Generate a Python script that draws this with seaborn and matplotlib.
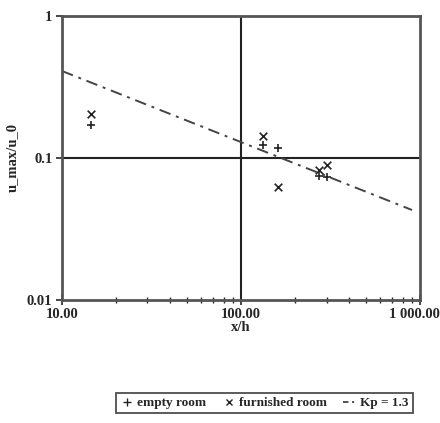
import numpy as np
import pandas as pd
import seaborn as sns
import matplotlib
matplotlib.use("Agg")
import matplotlib.pyplot as plt
from matplotlib.lines import Line2D
from matplotlib.transforms import ScaledTranslation
from matplotlib.ticker import LogLocator, FixedLocator, FixedFormatter, NullLocator

# ---------------- data ----------------
empty_x = [14.5, 132, 161, 271, 301]
empty_y = [0.171, 0.124, 0.118, 0.075, 0.073]

furnished_x = [14.5, 132, 161, 271, 301]
furnished_y = [0.204, 0.143, 0.0625, 0.082, 0.089]

kp_x = [10, 900]
kp_y = [0.41, 0.043]

x_ticks = [10, 100, 1000]
x_ticklabels = ["10.00", "100.00", "1 000.00"]
y_ticks = [0.01, 0.1, 1]
y_ticklabels = ["0.01", "0.1", "1"]

df_empty = pd.DataFrame({"x/h": empty_x, "u": empty_y})
df_furn = pd.DataFrame({"x/h": furnished_x, "u": furnished_y})
df_kp = pd.DataFrame({"x/h": kp_x, "u": kp_y})

# ---------------- plot ----------------
sns.set_theme(style="white")
plt.rcParams["font.family"] = ["Liberation Serif", "DejaVu Serif"]
plt.rcParams["font.weight"] = "bold"

fig = plt.figure(figsize=(4.4, 4.23), dpi=100)
ax = fig.add_axes([0.141, 0.291, 0.814, 0.671])

ax.set_xscale("log")
ax.set_yscale("log")

sns.lineplot(data=df_kp, x="x/h", y="u", ax=ax, color="#444444",
             linestyle=(0, (6, 3, 1.5, 3)), linewidth=1.4, legend=False)
sns.scatterplot(data=df_empty, x="x/h", y="u", ax=ax, marker="+",
                color="#222222", s=40, linewidth=1.2, legend=False)
sns.scatterplot(data=df_furn, x="x/h", y="u", ax=ax, marker="x",
                color="#222222", s=30, linewidth=1.2, legend=False)

ax.set_xlim(10, 1000)
ax.set_ylim(0.01, 1)

# decade grid lines only
ax.axvline(100, color="#222222", linewidth=1.5, zorder=0)
ax.axhline(0.1, color="#222222", linewidth=1.5, zorder=0)

ax.xaxis.set_major_locator(FixedLocator(x_ticks))
ax.xaxis.set_major_formatter(FixedFormatter(x_ticklabels))
ax.xaxis.set_minor_locator(LogLocator(base=10, subs=np.arange(2, 10)))
ax.yaxis.set_major_locator(FixedLocator(y_ticks))
ax.yaxis.set_major_formatter(FixedFormatter(y_ticklabels))
ax.yaxis.set_minor_locator(NullLocator())
ax.xaxis.set_minor_formatter(plt.NullFormatter())

ax.tick_params(axis="x", which="major", direction="inout", length=7, width=1.2,
               labelsize=10.5, pad=2, bottom=True)
ax.tick_params(axis="x", which="minor", direction="inout", length=5, width=1,
               bottom=True)
ax.tick_params(axis="y", which="major", direction="out", length=4, width=1.2,
               labelsize=10.5, pad=3, left=True)

# keep the last x label inside the figure
last = ax.get_xticklabels()[-1]
last.set_transform(last.get_transform() + ScaledTranslation(-6 / 100, 0, fig.dpi_scale_trans))

for sp in ax.spines.values():
    sp.set_color("#555555")
    sp.set_linewidth(2)

ax.set_xlabel("x/h", fontsize=10.5, fontweight="bold", labelpad=0)
ax.set_ylabel("u_max/u_0", fontsize=10.5, fontweight="bold", labelpad=6)

handles = [
    Line2D([], [], marker="+", linestyle="none", color="#222222", markersize=6),
    Line2D([], [], marker="x", linestyle="none", color="#222222", markersize=5),
    Line2D([], [], color="#444444", linestyle=(0, (3, 2, 1.2, 2)), linewidth=1.3),
]
labels = ["empty room", "furnished room", "Kp = 1.3"]
leg = fig.legend(handles, labels, loc="center", bbox_to_anchor=(0.601, 0.047),
                 ncol=3, frameon=True, fancybox=False, fontsize=9.5,
                 handlelength=1.0, handletextpad=0.3, columnspacing=1.2,
                 borderpad=0.3)
leg.get_frame().set_edgecolor("#222222")
leg.get_frame().set_linewidth(1.3)

fig.savefig("out.png", dpi=100)
